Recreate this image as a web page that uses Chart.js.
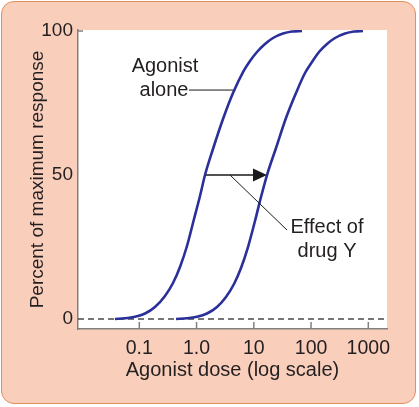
<!DOCTYPE html>
<html><head><meta charset="utf-8">
<script src="https://cdn.jsdelivr.net/npm/chart.js@4.4.0/dist/chart.umd.min.js"></script>
<style>
html,body{margin:0;padding:0;background:#fff;}
#wrap{position:relative;width:419px;height:407px;overflow:hidden;}
#frame{position:absolute;left:1px;top:1px;width:413px;height:401px;border:1.5px solid #e0905c;border-radius:13px;background:#f9cfbc;}
canvas{position:absolute;left:0;top:0;}
</style></head><body>
<div id="wrap"><div id="frame"></div><canvas id="c" width="419" height="407"></canvas></div>
<script>
// ---- data ----
const agonistDose     = [0.0376, 0.0563, 0.0841, 0.126, 0.188, 0.281, 0.388, 0.514, 0.681, 0.903, 1.149, 1.405, 1.938, 2.898, 4.333, 6.477, 8.582, 11.37, 15.69, 21.64, 32.36, 46.48, 69.50];
const agonistResponse = [0, 0.24, 0.76, 1.91, 4.17, 7.99, 12.5, 18.06, 25.35, 34.72, 42.71, 50.0, 59.03, 69.44, 78.47, 85.76, 89.58, 92.71, 95.49, 97.57, 99.1, 99.8, 100];
const drugDose        = [0.438, 0.681, 1.018, 1.522, 2.277, 3.268, 4.511, 5.977, 7.918, 10.49, 13.36, 17.01, 24.43, 36.51, 54.59, 78.41, 103.9, 137.7, 189.9, 262.0, 391.8, 562.8, 808.0];
const drugResponse    = [0, 0.24, 0.76, 1.91, 4.17, 7.64, 12.15, 17.71, 25.0, 34.03, 42.36, 50.0, 59.38, 69.79, 78.47, 85.42, 89.24, 92.71, 95.49, 97.57, 99.1, 99.8, 100];
const xTickValues = [0.1, 1, 10, 100, 1000];
const xTickLabels = ['0.1', '1.0', '10', '100', '1000'];
const yTickValues = [0, 50, 100];
const yTickLabels = ['0', '50', '100'];
const baselineResponse = 0;
const xRange = [0.0085, 2121];
const yRange = [-3.47, 100.35];
// annotation anchors (data coordinates)
const shiftArrow = {from: [1.40, 50], to: [17.0, 50]};
const agonistLeader = {from: [0.738, 79.5], to: [4.33, 79.5]};
const effectLeader = {from: [3.84, 50], to: [38.0, 30.9]};
const labels = [
  {text: 'Agonist', at: [0.281, 87.8]},
  {text: 'alone', at: [0.270, 79.5]},
  {text: 'Effect of', at: [190, 31.9]},
  {text: 'drug Y', at: [190, 23.6]}
];

const FONT = '"Liberation Sans", Arial, Helvetica, sans-serif';
const TXT = '#231f20';
const AXIS = '#808080';
const CURVE = '#2b2f99';

const toPts = (xs, ys) => xs.map((x, i) => ({x, y: ys[i]}));

const plotBg = {
  id: 'plotBg',
  beforeDraw(chart) {
    const {ctx, chartArea: a} = chart;
    ctx.save(); ctx.fillStyle = '#ffffff';
    ctx.fillRect(a.left, a.top, a.right - a.left, a.bottom - a.top);
    ctx.restore();
  }
};

const decor = {
  id: 'decor',
  afterDraw(chart) {
    const {ctx, chartArea: a} = chart;
    const xs = chart.scales.x, ys = chart.scales.y;
    const P = (p) => [xs.getPixelForValue(p[0]), ys.getPixelForValue(p[1])];
    ctx.save();
    // inner tick marks
    ctx.strokeStyle = AXIS; ctx.lineWidth = 1.5;
    xTickValues.forEach(v => {
      const px = xs.getPixelForValue(v);
      ctx.beginPath(); ctx.moveTo(px, a.bottom); ctx.lineTo(px, a.bottom - 7); ctx.stroke();
    });
    const ty = ys.getPixelForValue(yTickValues[yTickValues.length - 1]);
    ctx.beginPath(); ctx.moveTo(a.left, ty); ctx.lineTo(a.left + 5, ty); ctx.stroke();
    // arrow
    const [ax0, ay0] = P(shiftArrow.from), [ax1, ay1] = P(shiftArrow.to);
    ctx.strokeStyle = '#1a1a1a'; ctx.fillStyle = '#1a1a1a'; ctx.lineWidth = 1.6;
    ctx.beginPath(); ctx.moveTo(ax0 + 1, ay0); ctx.lineTo(ax1 - 10, ay1); ctx.stroke();
    ctx.beginPath(); ctx.moveTo(ax1, ay1); ctx.lineTo(ax1 - 14, ay1 - 6.5); ctx.lineTo(ax1 - 14, ay1 + 6.5); ctx.closePath(); ctx.fill();
    // leaders
    ctx.lineWidth = 1;
    [agonistLeader, effectLeader].forEach(l => {
      const [x0, y0] = P(l.from), [x1, y1] = P(l.to);
      ctx.beginPath(); ctx.moveTo(x0, y0); ctx.lineTo(x1, y1); ctx.stroke();
    });
    // text
    ctx.fillStyle = TXT; ctx.font = '20px ' + FONT; ctx.textAlign = 'center'; ctx.textBaseline = 'middle';
    labels.forEach(t => { const [x, y] = P(t.at); ctx.fillText(t.text, x, y); });
    ctx.restore();
  }
};

new Chart(document.getElementById('c'), {
  type: 'line',
  data: {
    datasets: [
      {data: toPts(agonistDose, agonistResponse), borderColor: CURVE, borderWidth: 2.6, pointRadius: 0, cubicInterpolationMode: 'monotone', fill: false},
      {data: toPts(drugDose, drugResponse), borderColor: CURVE, borderWidth: 2.6, pointRadius: 0, cubicInterpolationMode: 'monotone', fill: false},
      {data: toPts(xRange, [baselineResponse, baselineResponse]), borderColor: '#4a4a4a', borderWidth: 1.3, borderDash: [6, 4], pointRadius: 0, fill: false}
    ]
  },
  options: {
    responsive: false, animation: false, devicePixelRatio: 1,
    layout: {padding: {left: 0, top: 30, right: 32, bottom: 0}},
    plugins: {legend: {display: false}, tooltip: {enabled: false}},
    scales: {
      x: {
        type: 'logarithmic', min: xRange[0], max: xRange[1],
        afterBuildTicks: s => { s.ticks = xTickValues.map(v => ({value: v})); },
        afterFit: s => { s.height = 78; },
        grid: {display: false, drawTicks: false},
        border: {display: true, color: AXIS, width: 1.5},
        ticks: {autoSkip: false, maxRotation: 0, padding: 8, color: TXT, font: {family: FONT, size: 19.5},
                callback: (v, i) => xTickLabels[i]},
        title: {display: true, text: 'Agonist dose (log scale)', color: TXT,
                font: {family: FONT, size: 20, lineHeight: 1.2}, padding: {top: 0, bottom: 25}}
      },
      y: {
        type: 'linear', min: yRange[0], max: yRange[1],
        afterBuildTicks: s => { s.ticks = yTickValues.map(v => ({value: v})); },
        afterFit: s => { s.width = 78; },
        grid: {display: false, drawTicks: false},
        border: {display: true, color: AXIS, width: 1.5},
        ticks: {padding: 5, color: TXT, font: {family: FONT, size: 19},
                callback: (v, i) => yTickLabels[i]},
        title: {display: true, text: 'Percent of maximum response', color: TXT,
                font: {family: FONT, size: 19, lineHeight: 1.2}, padding: {top: 26, bottom: 0}}
      }
    }
  },
  plugins: [plotBg, decor]
});
</script>
</body></html>
